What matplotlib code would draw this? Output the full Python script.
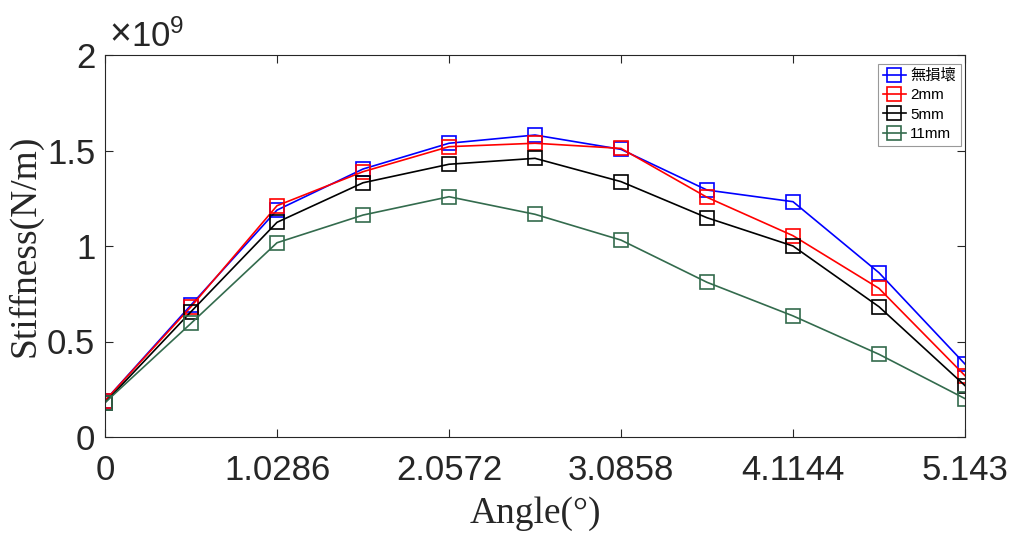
import numpy as np
import matplotlib
matplotlib.use("Agg")
import matplotlib.pyplot as plt
from matplotlib.ticker import FuncFormatter

# Angle positions (degrees) and stiffness values (in units of 1e9 N/m)
angles = [0, 0.5143, 1.0286, 1.5429, 2.0572, 2.5715, 3.0858, 3.6001, 4.1144, 4.6287, 5.143]
intact = [0.19, 0.691, 1.188, 1.403, 1.538, 1.581, 1.506, 1.293, 1.232, 0.860, 0.382]
crack_2mm = [0.19, 0.682, 1.211, 1.389, 1.520, 1.538, 1.511, 1.255, 1.054, 0.778, 0.321]
crack_5mm = [0.18, 0.656, 1.124, 1.331, 1.428, 1.459, 1.337, 1.148, 1.000, 0.682, 0.269]
crack_11mm = [0.18, 0.595, 1.017, 1.162, 1.258, 1.166, 1.031, 0.810, 0.634, 0.433, 0.201]

series_labels = ["無損壞", "2mm", "5mm", "11mm"]
series_colors = ["#0000FF", "#FF0000", "#000000", "#336B4D"]
x_ticks = [0, 1.0286, 2.0572, 3.0858, 4.1144, 5.143]
x_tick_labels = ["0", "1.0286", "2.0572", "3.0858", "4.1144", "5.143"]
y_ticks = [0, 0.5, 1, 1.5, 2]

sans = ["Liberation Sans", "Noto Sans CJK TC", "DejaVu Sans"]
serif = ["Liberation Serif", "DejaVu Serif"]
axis_gray = "#262626"

plt.rcParams["mathtext.fontset"] = "custom"
plt.rcParams["mathtext.rm"] = "Liberation Sans"
plt.rcParams["mathtext.it"] = "Liberation Sans"

fig = plt.figure(figsize=(10.13, 5.34), dpi=100)
ax = fig.add_axes([105 / 1013, 97 / 534, 860 / 1013, 382 / 534])

for ys, lab, col in zip([intact, crack_2mm, crack_5mm, crack_11mm], series_labels, series_colors):
    ax.plot(angles, ys, color=col, linewidth=1.2, marker="s", markersize=10,
            markerfacecolor="none", markeredgecolor=col, markeredgewidth=1.2, label=lab)

ax.set_xlim(0, 5.143)
ax.set_ylim(0, 2)
ax.set_xticks(x_ticks)
ax.set_xticklabels(x_tick_labels)
ax.set_yticks(y_ticks)
ax.yaxis.set_major_formatter(FuncFormatter(lambda v, p: f"{v:g}"))

for lbl in ax.get_xticklabels() + ax.get_yticklabels():
    lbl.set_family(sans)
    lbl.set_fontsize(25)
    lbl.set_color(axis_gray)

ax.tick_params(direction="in", length=6, width=0.8, colors=axis_gray,
               top=True, right=True)
ax.tick_params(axis="x", pad=12)
ax.tick_params(axis="y", pad=7)
for sp in ax.spines.values():
    sp.set_color(axis_gray)
    sp.set_linewidth(0.8)

ax.set_xlabel("Angle(°)", family=serif, fontsize=27, color=axis_gray, labelpad=7)
ax.set_ylabel("Stiffness(N/m)", family=serif, fontsize=27, color=axis_gray, labelpad=3)

# exponent label for the y axis: multiplication sign followed by the power of ten
ax.annotate("×", xy=(0, 1), xycoords="axes fraction", xytext=(3, 1),
            textcoords="offset points", family=sans, fontsize=27,
            color=axis_gray, ha="left", va="bottom")
ax.annotate("10$^{9}$", xy=(0, 1), xycoords="axes fraction", xytext=(19, 1),
            textcoords="offset points", family=sans, fontsize=25,
            color=axis_gray, ha="left", va="bottom")

leg = ax.legend(loc="upper right", bbox_to_anchor=(0.9985, 0.985), prop={"family": sans, "size": 11},
                frameon=True, fancybox=False, edgecolor="#999999", framealpha=1,
                handlelength=1.5, handletextpad=0.3, borderpad=0.3, labelspacing=0.35,
                borderaxespad=0.2)
leg.get_frame().set_linewidth(0.8)

fig.savefig("out.png", dpi=100)
